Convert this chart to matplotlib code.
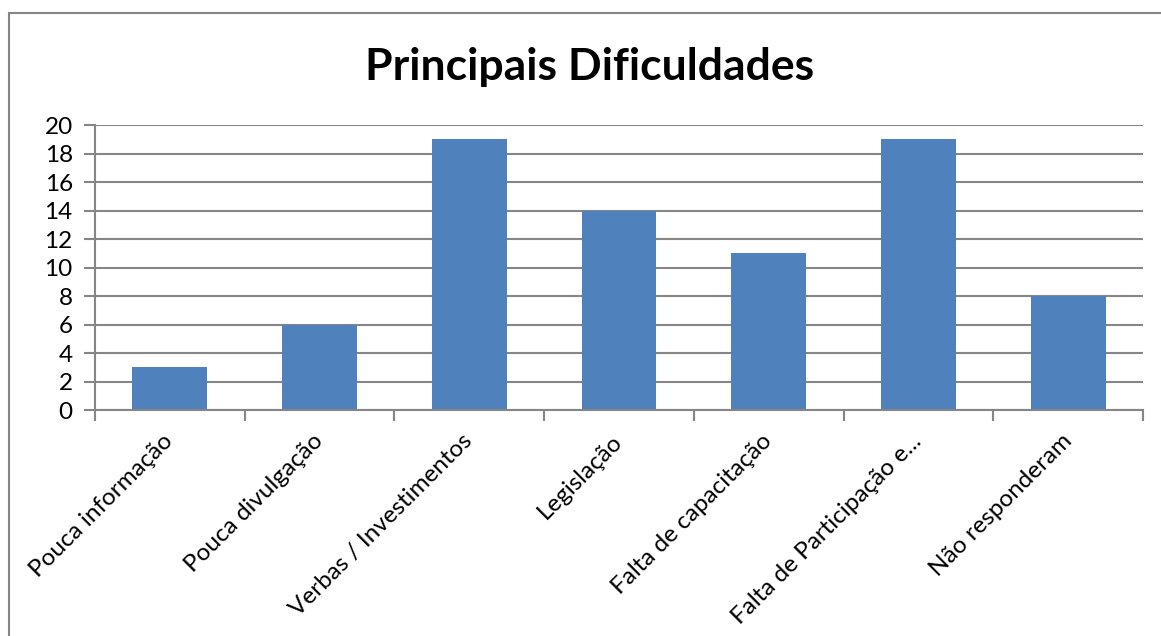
import matplotlib.pyplot as plt
from matplotlib.patches import Rectangle

categories = ["Pouca informação", "Pouca divulgação", "Verbas / Investimentos",
              "Legislação", "Falta de capacitação", "Falta de Participação e...",
              "Não responderam"]
values = [3, 6, 19, 14, 11, 19, 8]
yticks = [0, 2, 4, 6, 8, 10, 12, 14, 16, 18, 20]

plt.rcParams['font.family'] = ['Lato', 'DejaVu Sans']

fig = plt.figure(figsize=(11.61, 6.36), dpi=100)
ax = fig.add_axes([0.0818, 0.3553, 0.9027, 0.4481])

grid_col = '#868686'
x = range(len(categories))
ax.bar(x, values, width=0.5, color='#4F81BD', zorder=3)

ax.set_xlim(-0.5, len(categories) - 0.5)
ax.set_ylim(0, 20)
ax.set_yticks(yticks)
ax.set_yticklabels([str(v) for v in yticks], fontsize=17.5)
ax.yaxis.grid(True, color=grid_col, linewidth=1.5, zorder=0)

# category boundary ticks, labels centred under the bars
ax.set_xticks([i - 0.5 for i in range(len(categories) + 1)])
ax.set_xticklabels([])
ax.set_xticks(list(x), minor=True)
ax.set_xticklabels(categories, minor=True, rotation=45, ha='right',
                   va='center', rotation_mode='anchor', fontsize=17.5)
ax.tick_params(axis='x', which='minor', length=0, pad=20)
ax.tick_params(axis='x', which='major', length=8, width=1.5, color=grid_col)
ax.tick_params(axis='y', length=8, width=1.5, color=grid_col, pad=8)

for s in ['top', 'right']:
    ax.spines[s].set_visible(False)
for s in ['left', 'bottom']:
    ax.spines[s].set_color(grid_col)
    ax.spines[s].set_linewidth(1.5)
    ax.spines[s].set_zorder(4)

fig.text(0.508, 0.895, "Principais Dificuldades", ha='center', va='center',
         fontsize=32, fontweight='bold')

# outer chart frame
fig.patches.append(Rectangle((9 / 1161, -0.05), 1.2, 1 - 13 / 636 + 0.05,
                             transform=fig.transFigure, fill=False,
                             edgecolor=grid_col, linewidth=1.5))

fig.savefig('out.png', dpi=100)
